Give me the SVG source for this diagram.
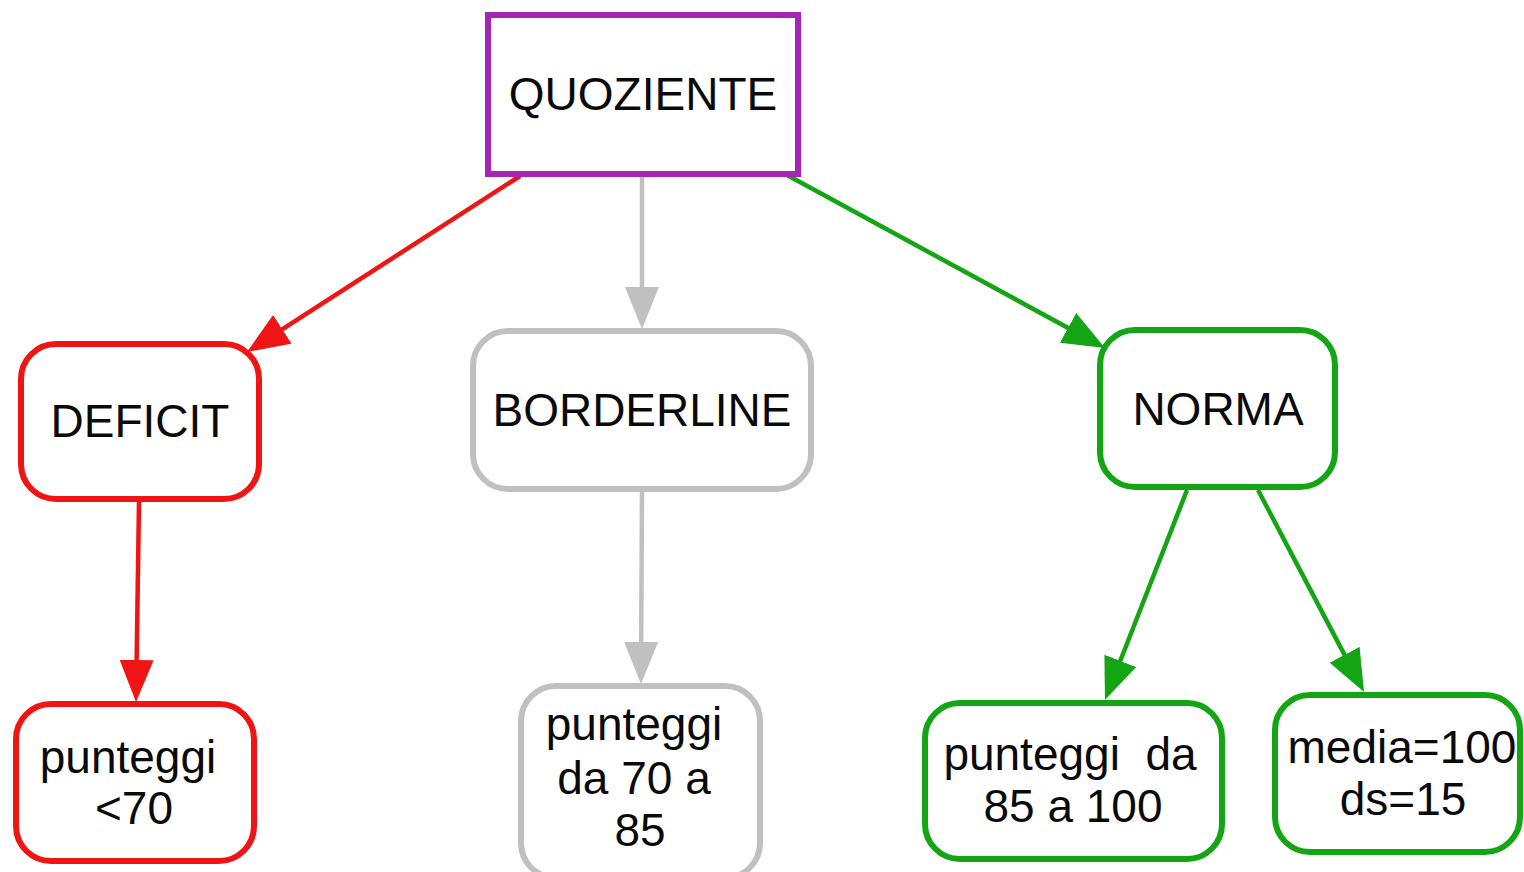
<svg xmlns="http://www.w3.org/2000/svg" width="1524" height="872" viewBox="0 0 1524 872">
<style>
.lbl{font-family:"Liberation Sans",Arial,sans-serif;font-size:46px;fill:#0a0a0a;text-anchor:middle;white-space:pre}
.box{fill:#fff;stroke-width:6}
.red{stroke:#f01414}
.gray{stroke:#c0c0c0}
.green{stroke:#14a514}
.purple{stroke:#a526b4}
.edge{fill:none;stroke-width:4.5}
</style>
<defs>
<marker id="ah-red" markerUnits="userSpaceOnUse" markerWidth="42" markerHeight="34" refX="32" refY="17" orient="auto"><path d="M0,0 L42,17 L0,34 z" fill="#f01414"/></marker>
<marker id="ah-gray" markerUnits="userSpaceOnUse" markerWidth="42" markerHeight="34" refX="32" refY="17" orient="auto"><path d="M0,0 L42,17 L0,34 z" fill="#c0c0c0"/></marker>
<marker id="ah-green" markerUnits="userSpaceOnUse" markerWidth="42" markerHeight="34" refX="32" refY="17" orient="auto"><path d="M0,0 L42,17 L0,34 z" fill="#14a514"/></marker>
</defs>
<rect width="1524" height="872" fill="#fff"/>
<g id="connectors">
<line class="edge red" x1="520" y1="176" x2="255.4" y2="346.6" marker-end="url(#ah-red)"/>
<line class="edge gray" x1="642" y1="176" x2="642" y2="319" marker-end="url(#ah-gray)"/>
<line class="edge green" x1="787" y1="175" x2="1096.2" y2="343.2" marker-end="url(#ah-green)"/>
<line class="edge red" x1="139" y1="502" x2="136.15" y2="692" marker-end="url(#ah-red)"/>
<line class="edge gray" x1="642" y1="492" x2="641" y2="674" marker-end="url(#ah-gray)"/>
<line class="edge green" x1="1187" y1="490" x2="1108.6" y2="690.7" marker-end="url(#ah-green)"/>
<line class="edge green" x1="1258" y1="490" x2="1359.4" y2="683.1" marker-end="url(#ah-green)"/>
</g>
<g id="quoziente">
<rect class="box purple" x="488" y="15" width="310" height="159"/>
<text class="lbl" x="643" y="110">QUOZIENTE</text>
</g>
<g id="deficit">
<rect class="box red" x="21" y="344" width="238" height="155" rx="35"/>
<text class="lbl" x="140" y="437">DEFICIT</text>
</g>
<g id="borderline">
<rect class="box gray" x="473" y="331" width="338" height="158" rx="35"/>
<text class="lbl" x="642" y="426">BORDERLINE</text>
</g>
<g id="norma">
<rect class="box green" x="1100" y="330" width="235" height="157" rx="35"/>
<text class="lbl" x="1218" y="425">NORMA</text>
</g>
<g id="deficit-range">
<rect class="box red" x="16" y="704" width="238" height="157" rx="35"/>
<text class="lbl"><tspan x="128" y="773">punteggi</tspan><tspan x="134" y="824">&lt;70</tspan></text>
</g>
<g id="borderline-range">
<rect class="box gray" x="521" y="686" width="239" height="192" rx="35"/>
<text class="lbl"><tspan x="634" y="740">punteggi</tspan><tspan x="634" y="794">da 70 a</tspan><tspan x="640" y="846">85</tspan></text>
</g>
<g id="norma-range">
<rect class="box green" x="925" y="703" width="297" height="156" rx="35"/>
<text class="lbl" xml:space="preserve"><tspan x="1070" y="770">punteggi  da</tspan><tspan x="1073" y="822">85 a 100</tspan></text>
</g>
<g id="norma-stats">
<rect class="box green" x="1275" y="695" width="245" height="157" rx="35"/>
<text class="lbl"><tspan x="1402" y="763">media=100</tspan><tspan x="1403" y="815">ds=15</tspan></text>
</g>
</svg>
